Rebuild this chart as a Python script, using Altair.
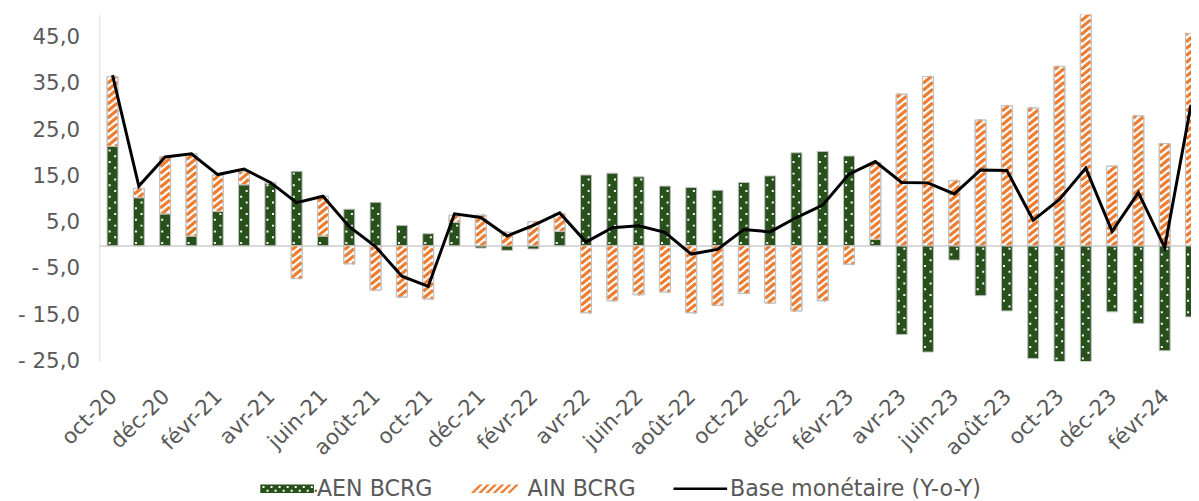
import altair as alt
import pandas as pd

months = ["oct-20", "nov-20", "déc-20", "janv-21", "févr-21", "mars-21", "avr-21", "mai-21",
          "juin-21", "juil-21", "août-21", "sept-21", "oct-21", "nov-21", "déc-21", "janv-22",
          "févr-22", "mars-22", "avr-22", "mai-22", "juin-22", "juil-22", "août-22", "sept-22",
          "oct-22", "nov-22", "déc-22", "janv-23", "févr-23", "mars-23", "avr-23", "mai-23",
          "juin-23", "juil-23", "août-23", "sept-23", "oct-23", "nov-23", "déc-23", "janv-24",
          "févr-24", "mars-24"]

aen = [21.5, 10.4, 6.9, 2.1, 7.4, 13.2, 13.5, 16.1, 2.1, 7.9, 9.4, 4.4, 2.6, 5.1,
       -0.5, -1.0, -0.7, 3.1, 15.3, 15.7, 14.9, 12.9, 12.6, 12.0, 13.7, 15.1, 20.1, 20.4,
       19.4, 1.4, -19.2, -23.0, -3.1, -10.8, -14.1, -24.4, -28.8, -35.2, -14.3, -16.8, -22.7, -15.4]

ain = [15.1, 2.0, 12.3, 17.8, 7.9, 2.9, 0.2, -7.1, 8.6, -3.9, -9.6, -11.1, -11.5, 1.5,
       6.6, 2.9, 5.2, 3.8, -14.5, -11.9, -10.6, -10.0, -14.5, -12.9, -10.3, -12.4, -14.1, -11.9,
       -4.0, 16.6, 32.8, 36.6, 14.1, 27.2, 30.3, 29.8, 38.8, 52.0, 17.2, 28.1, 22.1, 45.9]

base = [36.9, 12.9, 19.2, 19.9, 15.4, 16.6, 13.7, 9.3, 10.7, 4.1, -0.2, -6.6, -8.8, 6.9,
        6.1, 2.1, 4.4, 7.1, 0.8, 3.9, 4.3, 2.9, -1.8, -0.8, 3.5, 3.0, 6.1, 8.8,
        15.5, 18.2, 13.7, 13.6, 11.2, 16.4, 16.3, 5.5, 10.0, 16.8, 3.1, 11.5, -0.4, 30.5]

series_names = ["AEN BCRG", "AIN BCRG", "Base monétaire (Y-o-Y)"]

GREEN = "#27501a"
ORANGE = "#ED7D31"
EDGE = "#bfbfbf"
TEXT = "#595959"
FONT = "DejaVu Sans"
FS = 21.5

# ---- stacked bar extents (positives and negatives stacked separately) ----
bar_rows = []
for i in range(len(months)):
    p = 0.0
    q = 0.0
    for s, v in ((series_names[0], aen[i]), (series_names[1], ain[i])):
        if v >= 0:
            y0, y1 = p, p + v
            p = y1
        else:
            y0, y1 = q, q + v
            q = y1
        bar_rows.append({"idx": i, "month": months[i], "series": s, "y0": y0, "y1": y1})
bars = pd.DataFrame(bar_rows)

# ---- dot pattern for AEN bars ----
dot_rows = []
step = 1.25
for r in bar_rows:
    if r["series"] != series_names[0]:
        continue
    lo, hi = min(r["y0"], r["y1"]), max(r["y0"], r["y1"])
    k0 = int(lo // step) - 1
    k1 = int(hi // step) + 1
    for k in range(k0, k1 + 1):
        yv = k * step + 0.6
        if lo + 0.35 < yv < hi - 0.35:
            off = -0.11 if k % 2 == 0 else 0.1
            dot_rows.append({"x": r["idx"] + off, "y": yv})
dots = pd.DataFrame(dot_rows)

# ---- diagonal hatch for AIN bars ----
hatch_rows = []
period = 1.5
hw = 0.185
rr = 0.86
for r in bar_rows:
    if r["series"] != series_names[1]:
        continue
    lo, hi = min(r["y0"], r["y1"]), max(r["y0"], r["y1"])
    k0 = int((lo - rr) // period) - 1
    k1 = int((hi + rr) // period) + 1
    for k in range(k0, k1 + 1):
        c = k * period
        ys = c - rr
        t0 = max(0.0, (lo - ys) / (2 * rr))
        t1 = min(1.0, (hi - ys) / (2 * rr))
        if t1 - t0 <= 0.05:
            continue
        hatch_rows.append({
            "xa": r["idx"] - hw + 2 * hw * t0, "ya": ys + 2 * rr * t0,
            "xb": r["idx"] - hw + 2 * hw * t1, "yb": ys + 2 * rr * t1,
        })
hatch = pd.DataFrame(hatch_rows)

line_df = pd.DataFrame({"idx": list(range(len(months))), "month": months, "v": base,
                        "zero": [0.0] * len(months)})
legend_df = pd.DataFrame({"series": series_names})

# ---- legend symbol paths ----
def rect(x0, y0, x1, y1, ccw=False):
    if ccw:
        return f"M {x0:.3f} {y0:.3f} L {x0:.3f} {y1:.3f} L {x1:.3f} {y1:.3f} L {x1:.3f} {y0:.3f} Z"
    return f"M {x0:.3f} {y0:.3f} L {x1:.3f} {y0:.3f} L {x1:.3f} {y1:.3f} L {x0:.3f} {y1:.3f} Z"

H = 0.16
green_path = rect(-1, -H, 1, H)
s = 0.037
xx = -0.88
while xx < 0.95:
    green_path += " " + rect(xx - s, -0.065 - s, xx + s, -0.065 + s, ccw=True)
    green_path += " " + rect(xx + 0.15 - s, 0.075 - s, xx + 0.15 + s, 0.075 + s, ccw=True)
    xx += 0.3
orange_path = ""
xx = -1.0
while xx + 0.32 + 0.12 <= 1.0:
    orange_path += (f"M {xx:.3f} {H} L {xx + 0.12:.3f} {H} L {xx + 0.44:.3f} {-H} "
                    f"L {xx + 0.32:.3f} {-H} Z ")
    xx += 0.27
line_path = rect(-1, -0.05, 1, 0.05)

X_SCALE = alt.Scale(domain=[-0.5, 41.0], nice=False, zero=False, padding=0)
Y_SCALE = alt.Scale(domain=[-25, 50], nice=False, zero=False, padding=0)

label_expr_x = "[" + ",".join("'" + m + "'" for m in months) + "][datum.value]"
label_expr_y = "(datum.value < 0 ? '- ' : '') + replace(format(abs(datum.value), '.1f'), '.', ',')"

x_axis = alt.Axis(values=list(range(0, 41, 2)), labelExpr=label_expr_x, labelAngle=-45,
                  labelAlign="right", labelBaseline="middle", labelPadding=32, labelOffset=1,
                  ticks=False, domain=False, grid=False, title=None,
                  labelFont=FONT, labelFontSize=FS, labelColor=TEXT,
                  labelOverlap=False, labelBound=False, labelFlush=False)
y_axis = alt.Axis(values=list(range(-25, 50, 10)), labelExpr=label_expr_y,
                  ticks=False, domain=True, domainColor="#d9d9d9", grid=False,
                  title=None, labelPadding=20, labelFont=FONT, labelFontSize=FS,
                  labelColor=TEXT)


def X(field):
    return alt.X(field, type="quantitative", scale=X_SCALE, axis=x_axis)


def Y(field):
    return alt.Y(field, type="quantitative", scale=Y_SCALE, axis=y_axis)


zero = alt.Chart(line_df).mark_rule(color="#d9d9d9", strokeWidth=1.5).encode(
    y=Y("zero")
)

green_bars = alt.Chart(bars).transform_filter(
    alt.datum.series == series_names[0]
).mark_bar(size=11, fill=GREEN, stroke=EDGE, strokeWidth=1, clip=True).encode(
    x=X("idx"), y=Y("y0"), y2="y1:Q",
)

orange_bg = alt.Chart(bars).transform_filter(
    alt.datum.series == series_names[1]
).mark_bar(size=11, fill="white", stroke=EDGE, strokeWidth=1, clip=True).encode(
    x=X("idx"), y=Y("y0"), y2="y1:Q",
)

dot_layer = alt.Chart(dots).mark_square(size=4, color="white", opacity=1, clip=True).encode(
    x=X("x"), y=Y("y"),
)

hatch_layer = alt.Chart(hatch).mark_rule(color=ORANGE, strokeWidth=3.2, clip=True).encode(
    x=X("xa"), y=Y("ya"), x2="xb:Q", y2="yb:Q",
)

outline = alt.Chart(bars).transform_filter(
    alt.datum.series == series_names[1]
).mark_bar(size=11, fill="white", fillOpacity=0, stroke=EDGE, strokeWidth=1, clip=True).encode(
    x=X("idx"), y=Y("y0"), y2="y1:Q",
)

line = alt.Chart(line_df).mark_line(color="black", strokeWidth=3, clip=True).encode(
    x=X("idx"), y=Y("v"),
)

leg = alt.Legend(orient="none", legendX=162, legendY=450,
                 direction="horizontal", title=None,
                 symbolSize=2916, symbolStrokeWidth=0,
                 labelFont=FONT, labelFontSize=22.3, labelColor=TEXT, labelLimit=500,
                 labelOffset=3, columnPadding=38, padding=0)

legend_layer = alt.Chart(legend_df).transform_filter("false").mark_point(
    filled=True, opacity=1, size=2916
).encode(
    color=alt.Color("series:N", scale=alt.Scale(domain=series_names,
                                                range=[GREEN, ORANGE, "black"]),
                    legend=leg),
    shape=alt.Shape("series:N", scale=alt.Scale(domain=series_names,
                                                range=[green_path, orange_path, line_path]),
                    legend=leg),
)

chart = alt.layer(
    zero, green_bars, orange_bg, dot_layer, hatch_layer, outline, line, legend_layer
).properties(
    width=1099, height=349,
    autosize=alt.AutoSizeParams(type="none"),
    padding={"left": 92, "top": 5, "right": 0, "bottom": 139},
).configure_view(stroke=None)

chart.save("out.html", embed_options={"renderer": "svg", "actions": False})
